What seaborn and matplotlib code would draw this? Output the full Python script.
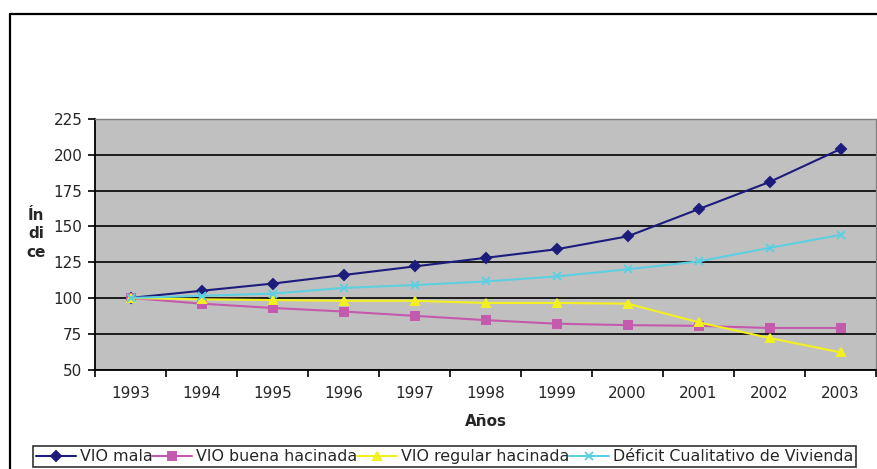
import matplotlib
matplotlib.use("Agg")
import matplotlib.pyplot as plt
from matplotlib.lines import Line2D
from matplotlib.ticker import FixedLocator, MultipleLocator
import pandas as pd
import seaborn as sns

# Index values (1993 = 100)
years = [1993, 1994, 1995, 1996, 1997, 1998, 1999, 2000, 2001, 2002, 2003]
vio_mala = [100, 105, 110, 116, 122, 128, 134, 143, 162, 181, 204]
vio_buena_hacinada = [100, 96, 93, 90.5, 87.5, 84.5, 82, 81, 80.5, 79, 79]
vio_regular_hacinada = [100, 99, 98.5, 98, 98, 96.5, 96.5, 96, 83, 72, 62]
deficit_cualitativo = [100, 101.5, 103, 107, 109, 111.5, 115, 120, 125.5, 135, 144]

series_names = ["VIO mala", "VIO buena hacinada", "VIO regular hacinada",
                "Déficit Cualitativo de Vivienda"]
series_values = [vio_mala, vio_buena_hacinada, vio_regular_hacinada,
                 deficit_cualitativo]
colors = ["#1c1c7c", "#c45aae", "#f2f020", "#5ccfe0"]
markers = ["D", "s", "^", "x"]
marker_sizes = [5, 6, 6, 6]

sns.set_theme(style="white")
plt.rcParams["font.family"] = ["DejaVu Sans"]

fig = plt.figure(figsize=(8.77, 4.69), dpi=100)
ax = fig.add_axes([95 / 877, 1 - 369.5 / 469, 781 / 877, 250.5 / 469])
ax.set_facecolor("#c0c0c0")

for name, vals, c, m, ms in zip(series_names, series_values, colors, markers,
                                marker_sizes):
    d = pd.DataFrame({"pos": range(len(years)), "valor": vals})
    sns.lineplot(data=d, x="pos", y="valor", color=c, marker=m,
                 markersize=ms, linewidth=1.5, markeredgewidth=1.4,
                 markeredgecolor=c, ax=ax, label=name, legend=False)

ax.set_xlim(-0.5, len(years) - 0.5)
ax.set_ylim(50, 225)
ax.yaxis.set_major_locator(MultipleLocator(25))
ax.grid(axis="y", color="black", linewidth=1.2)
ax.set_axisbelow(True)

ax.xaxis.set_major_locator(FixedLocator(range(len(years))))
ax.set_xticklabels([str(y) for y in years])
ax.xaxis.set_minor_locator(FixedLocator([i - 0.5 for i in range(len(years) + 1)]))
ax.tick_params(axis="x", which="major", length=0, pad=12, labelsize=11)
ax.tick_params(axis="x", which="minor", length=5, width=1.2, direction="out",
               color="black", bottom=True)
ax.tick_params(axis="y", length=5, width=1.2, direction="out", color="black",
               left=True, pad=4, labelsize=11)

for side in ["left", "bottom"]:
    ax.spines[side].set_color("black")
    ax.spines[side].set_linewidth(1.3)
for side in ["top", "right"]:
    ax.spines[side].set_color("#808080")
    ax.spines[side].set_linewidth(1.0)

ax.set_xlabel("Años", fontsize=11, fontweight="bold", labelpad=9)
ax.set_ylabel("")
fig.text(36 / 877, 1 - 234 / 469, "Ín\ndi\nce", fontsize=11,
         fontweight="bold", ha="center", va="center", linespacing=1.3)

# Legend along the bottom
handles = [Line2D([], [], color=c, marker=m, markersize=ms, linewidth=1.5,
                  markeredgewidth=1.4)
           for c, m, ms in zip(colors, markers, marker_sizes)]
leg = fig.legend(handles, series_names, loc="upper left",
                 bbox_to_anchor=(33 / 877, 1 - 446 / 469), ncol=4,
                 fontsize=11.4, frameon=True, fancybox=False,
                 handlelength=2.5, handletextpad=0.25, columnspacing=0.0,
                 borderpad=0.2, borderaxespad=0)
leg.get_frame().set_edgecolor("black")
leg.get_frame().set_linewidth(1.2)

# Outer chart border
fig.add_artist(Line2D([10 / 877, 10 / 877], [0, 1 - 14 / 469],
                      transform=fig.transFigure, color="black", linewidth=1.6))
fig.add_artist(Line2D([10 / 877, 1], [1 - 14 / 469, 1 - 14 / 469],
                      transform=fig.transFigure, color="black", linewidth=1.6))

fig.savefig("out.png", dpi=100, facecolor="white")
